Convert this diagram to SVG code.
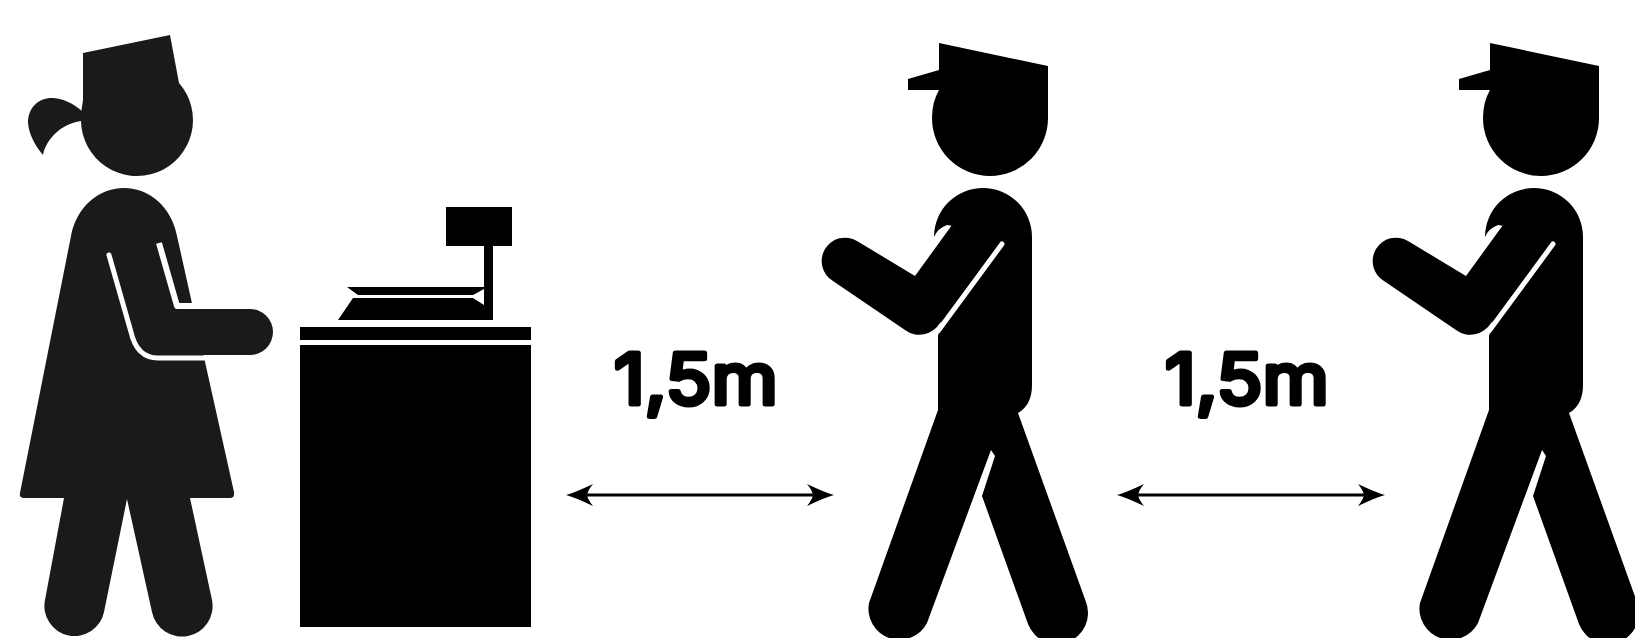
<svg xmlns="http://www.w3.org/2000/svg" width="1635" height="638" viewBox="0 0 1635 638">
<style>
.w{fill:#1a1a1a}
.k{fill:#000}
.slit{fill:none;stroke:#fff;stroke-width:5;stroke-linecap:round;stroke-linejoin:round}
.lbl{font-family:"Inter","Liberation Sans",sans-serif;font-size:70px;font-weight:400;fill:#000;stroke:#000;stroke-width:5;stroke-linejoin:round}
.arr{stroke:#000;stroke-width:3;fill:none;marker-start:url(#ah);marker-end:url(#ah)}
</style>
<defs>
<marker id="ah" markerUnits="userSpaceOnUse" markerWidth="27" markerHeight="22" refX="21" refY="11" orient="auto-start-reverse"><path d="M0,0 Q19,9 27,11 Q19,13 0,22 Q5,16 6,11 Q5,6 0,0 Z" fill="#000"/></marker>
<g id="man">
<path class="k" d="M939,43 L1048,66 L1048,118 A58,58 0 0 1 932,118 Q932,102 939,90 L908,90 L908,79 L939,70 Z"/>
<path class="k" d="M934,237 A49,49 0 0 1 1032,237 L1032,385 Q1032,405 1018,413 L1086,602 A31,31 0 0 1 1028,624 L982,496 L995,456 L991,450 L927,623 A31,31 0 0 1 869,603 L938,410 L938,336 L950,280 L953,226 L947,225 Q938,228 934,237 Z"/>
<path class="slit" d="M1002,244 L938,331"/>
<path class="k" d="M952,225 L915,276 L857,241 A23,23 0 0 0 833,281 L905,330 A24,24 0 0 0 940,323 L980,269 Z"/>
</g>
</defs>
<rect width="1635" height="638" fill="#fff"/>
<g id="woman">
<path class="w" d="M83,53 L170,35 L179,83 A56,56 0 1 1 81,121 Q81,110 83,100 Z"/>
<path class="w" d="M83,112 C73,103 62,98 52,98 C38,98 28,108 28,123 C29,135 36,147 43,155 C46,140 60,124 81,121 Z"/>
<path class="w" d="M71,236 C76,208 98,188 124,188 C150,188 172,208 177,236 L234,492 Q235,498 230,498 L190,498 L212,600 A30,30 0 0 1 152,612 L127,499 L104,612 A30,30 0 0 1 45,600 L64,498 L24,498 Q19,498 20,493 Z"/>
<path class="slit" style="stroke-width:6;stroke-linecap:butt" d="M159,243 L177,306 L200,306"/>
<path class="slit" d="M109,255 L131,332 Q137,358 158,358 L208,358"/>
<path class="w" d="M170,309 L250,309 A23,23 0 0 1 250,355 L158,355 Z"/>
</g>
<g id="register">
<rect class="k" x="300" y="327" width="231" height="13"/>
<rect class="k" x="300" y="345" width="231" height="282"/>
<rect class="k" x="446" y="207" width="66" height="39"/>
<path class="k" d="M484,246 H493 V320 H338 L353,298 H473 L484,305 Z"/>
<path class="k" d="M347,287 H484 V289 L473,295 H358 Z"/>
</g>
<g id="label-1"><text class="lbl" x="614" y="404" textLength="164" lengthAdjust="spacingAndGlyphs">1,5m</text></g>
<g id="label-2"><text class="lbl" x="1165" y="404" textLength="164" lengthAdjust="spacingAndGlyphs">1,5m</text></g>
<g id="person-1"><use href="#man"/></g>
<g id="person-2"><use href="#man" x="551"/></g>
<g id="connectors">
<line class="arr" x1="572" y1="495" x2="828" y2="495"/>
<line class="arr" x1="1123" y1="495" x2="1379" y2="495"/>
</g>
</svg>
